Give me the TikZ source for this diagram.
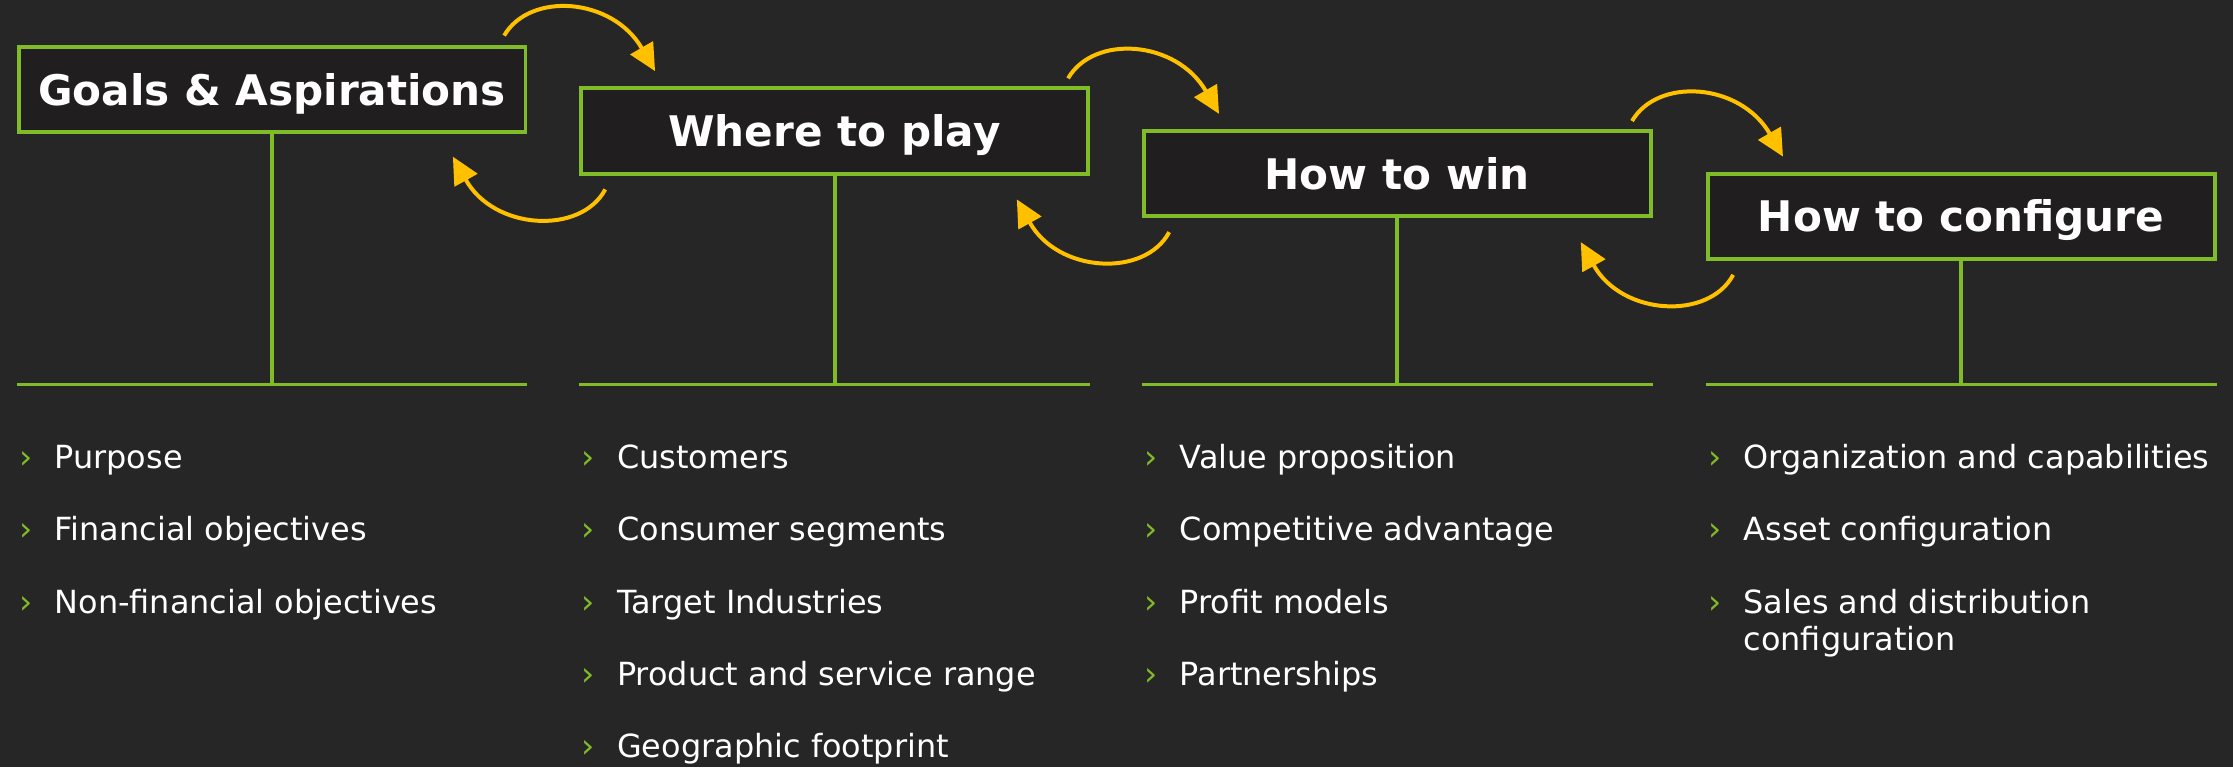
\documentclass[tikz,border=0pt]{standalone}
\usepackage{fontspec}
\setmainfont{DejaVu Sans}
\usetikzlibrary{arrows.meta}
\definecolor{bgdark}{RGB}{38,38,38}
\definecolor{boxfill}{RGB}{32,30,31}
\definecolor{leafgreen}{RGB}{128,187,40}
\definecolor{loopgold}{RGB}{255,192,0}
\tikzset{
  headbox/.style={draw=leafgreen, line width=1.4pt, fill=boxfill, minimum width=178pt,
    minimum height=30pt, inner sep=0pt, text=white, text height=10.8pt, text depth=0pt,
    font=\bfseries\fontsize{14.8}{18}\selectfont},
  stemline/.style={leafgreen, line width=1.4pt},
  cyclearrow/.style={loopgold, line width=1.4pt, -{Triangle[length=9.5pt,width=9pt]}},
  bulletmark/.style={text=leafgreen, anchor=base, inner sep=0pt, font=\fontsize{11.6}{13}\selectfont},
  itemtext/.style={text=white, anchor=base west, inner sep=0pt, align=left,
    font=\fontsize{11.2}{13}\selectfont},
}
\begin{document}
\begin{tikzpicture}[x=0.5pt,y=-0.5pt]
    \fill[bgdark] (0,0) rectangle (1568,538.6);
    \useasboundingbox (0,0) rectangle (1568,538.6);
    % headers with their stems
    \foreach \n/\cx/\cy/\title in {ga/191/63/Goals \& Aspirations, wp/586/92/Where to play,
        hw/981/122/How to win, hc/1377/152/How to configure}{
        \node[headbox] (\n) at (\cx,\cy) {\title};
        \coordinate (\n-base) at (\cx,270);
        \draw[stemline] (\n.south) -- (\n-base);
        \draw[stemline] (\n.west |- \n-base) -- (\n.east |- \n-base);
    }
    % back and forth arrows
    \foreach \i in {0,1,2}{
        \begin{scope}[shift={(396*\i,30*\i)}]
        \coordinate (fwd-s\i) at (354,25);
        \coordinate (fwd-e\i) at (460,50);
        \coordinate (bck-s\i) at (425,133);
        \coordinate (bck-e\i) at (318,110);
        \draw[cyclearrow] (fwd-s\i) .. controls (372,-6) and (430,-2) .. (fwd-e\i);
        \draw[cyclearrow] (bck-s\i) .. controls (408,165) and (347,162) .. (bck-e\i);
        \end{scope}
    }
    % bullet lists
    \foreach \t [count=\k] in {Purpose, Financial objectives, Non-financial objectives}{
        \node[bulletmark] (ga-b\k) at (18,329+50.75*\k-50.75) {›};
        \node[itemtext] (ga-t\k) at (38,329+50.75*\k-50.75) {\t};
    }
    \foreach \t [count=\k] in {Customers, Consumer segments, Target Industries,
        Product and service range, Geographic footprint}{
        \node[bulletmark] (wp-b\k) at (413,329+50.75*\k-50.75) {›};
        \node[itemtext] (wp-t\k) at (433,329+50.75*\k-50.75) {\t};
    }
    \foreach \t [count=\k] in {Value proposition, Competitive advantage, Profit models, Partnerships}{
        \node[bulletmark] (hw-b\k) at (808,329+50.75*\k-50.75) {›};
        \node[itemtext] (hw-t\k) at (828,329+50.75*\k-50.75) {\t};
    }
    \foreach \t [count=\k] in {Organization and capabilities, Asset configuration}{
        \node[bulletmark] (hc-b\k) at (1204,329+50.75*\k-50.75) {›};
        \node[itemtext] (hc-t\k) at (1224,329+50.75*\k-50.75) {\t};
    }
    \node[bulletmark] (hc-b3) at (1204,430.5) {›};
    \node[itemtext] (hc-t3) at (1224,457) {Sales and distribution\\configuration};
\end{tikzpicture}
\end{document}
